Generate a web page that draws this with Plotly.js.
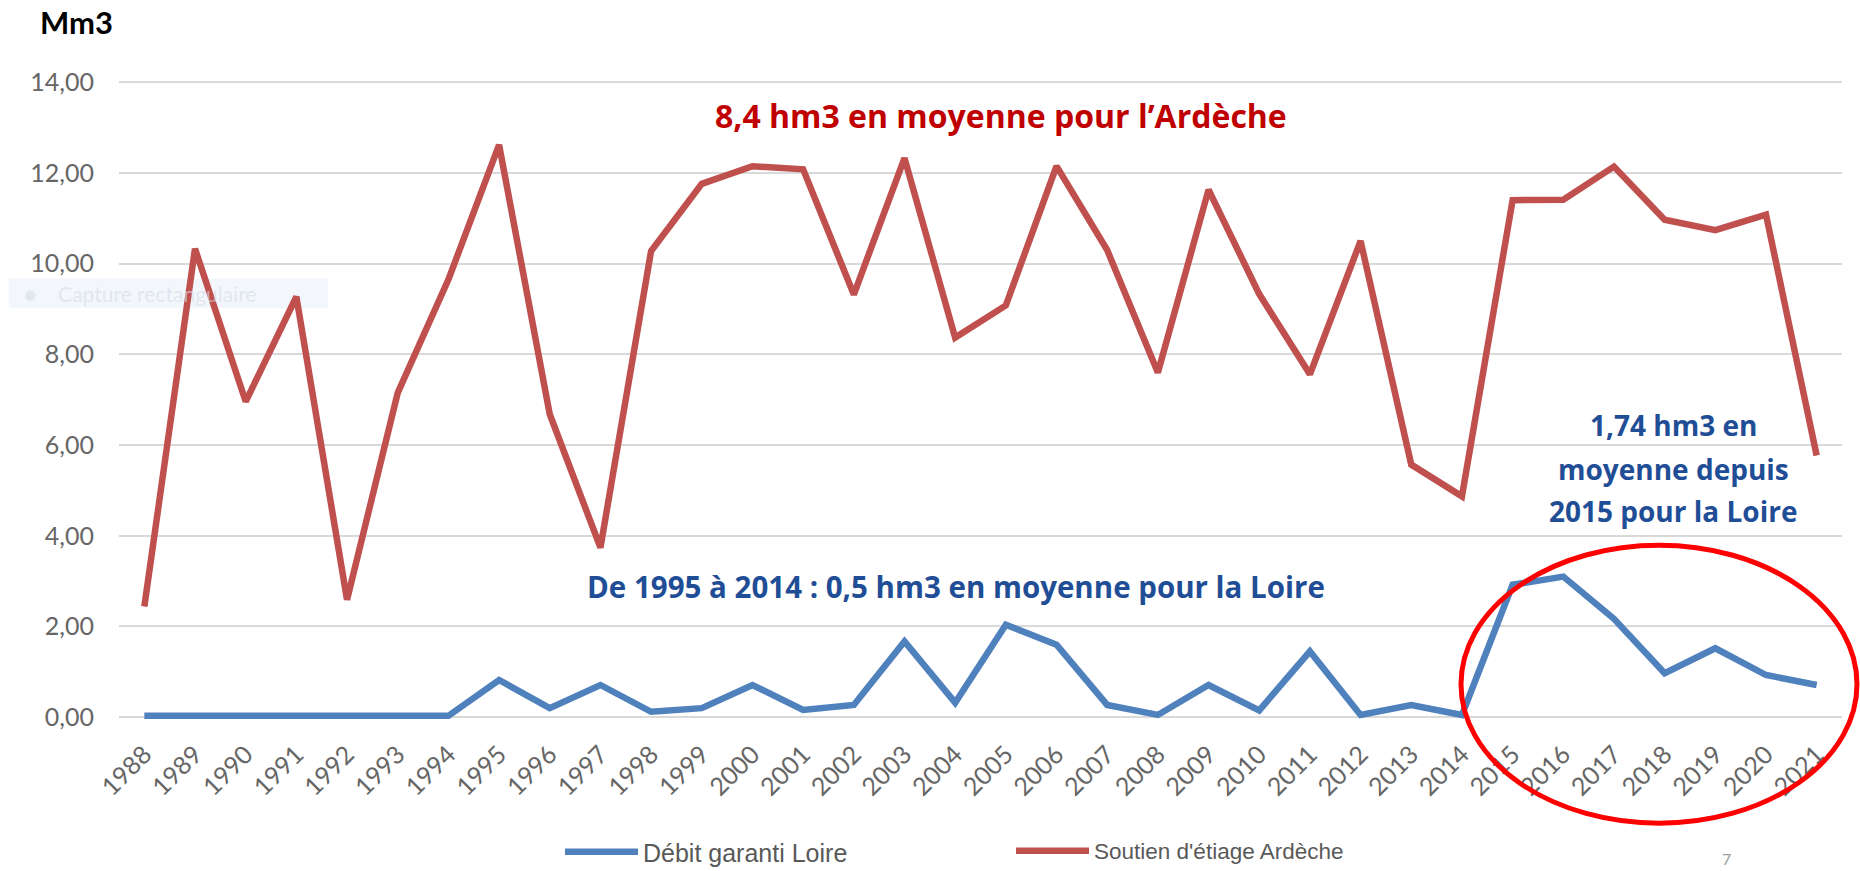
<!DOCTYPE html>
<html>
<head>
<meta charset="utf-8">
<script src="https://cdn.plot.ly/plotly-3.0.1.min.js"></script>
<style>
  html, body { margin: 0; padding: 0; background: #ffffff; }
  #chart { width: 1860px; height: 871px; }
</style>
</head>
<body>
<div id="chart"></div>
<script>
// ---- Data ----
const years = ['1988','1989','1990','1991','1992','1993','1994','1995','1996','1997','1998','1999','2000','2001','2002','2003','2004','2005','2006','2007','2008','2009','2010','2011','2012','2013','2014','2015','2016','2017','2018','2019','2020','2021'];

const debitGarantiLoire = [0.03,0.03,0.03,0.03,0.03,0.03,0.03,0.82,0.20,0.71,0.12,0.20,0.71,0.16,0.27,1.67,0.32,2.04,1.60,0.27,0.05,0.71,0.15,1.45,0.05,0.27,0.05,2.92,3.10,2.17,0.97,1.52,0.93,0.71];

const soutienEtiageArdeche = [2.44,10.33,6.96,9.27,2.59,7.15,9.65,12.62,6.68,3.74,10.28,11.76,12.15,12.08,9.32,12.33,8.37,9.08,12.15,10.30,7.60,11.63,9.33,7.56,10.50,5.57,4.87,11.40,11.41,12.14,10.97,10.74,11.08,5.77];

const seriesNames = ['Débit garanti Loire', "Soutien d'étiage Ardèche"];
const yTicks = [0, 2, 4, 6, 8, 10, 12, 14];
const yTickLabels = ['0,00','2,00','4,00','6,00','8,00','10,00','12,00','14,00'];
const unitLabel = 'Mm3';
const noteArdeche = '8,4 hm3 en moyenne pour l’Ardèche';
const noteLoire = 'De 1995 à 2014 : 0,5 hm3 en moyenne pour la Loire';
const noteLoire2015 = ['1,74 hm3 en', 'moyenne depuis', '2015 pour la Loire'];

// ---- Chart ----
const FONT = 'Lato, "Open Sans", sans-serif';
const NOTE_FONT = '"Open Sans", Lato, sans-serif';
const BLUE = '#4f81bd';
const RED = '#c0504d';
const NOTE_BLUE = '#1f4e96';
const NOTE_RED = '#c00000';

// pixel helpers for layout placement (plot area: x 119..1842, y 79.7..723.8)
const PX = (px) => (px - 119) / 1723;
const PY = (py) => (723.8 - py) / 644.1;

const traces = [
  {
    type: 'scatter', mode: 'lines', name: seriesNames[0],
    x: years, y: debitGarantiLoire,
    line: { color: BLUE, width: 6.5, shape: 'linear' },
    legend: 'legend',
    hoverinfo: 'x+y'
  },
  {
    type: 'scatter', mode: 'lines', name: seriesNames[1],
    x: years, y: soutienEtiageArdeche,
    line: { color: RED, width: 6.5, shape: 'linear' },
    legend: 'legend2',
    hoverinfo: 'x+y'
  }
];

const layout = {
  width: 1860, height: 871,
  paper_bgcolor: '#ffffff', plot_bgcolor: '#ffffff',
  margin: { l: 119, r: 18, t: 79.7, b: 147.2, pad: 0, autoexpand: false },
  separators: ', ',
  font: { family: FONT, color: '#666666', size: 24 },
  title: {
    text: unitLabel,
    x: 40 / 1860, xanchor: 'left', xref: 'container',
    y: 1 - 23 / 871, yanchor: 'middle', yref: 'container',
    font: { family: FONT, size: 31, color: '#000000', weight: 'bold' }
  },
  xaxis: {
    type: 'category',
    range: [-0.5, 33.5],
    tickmode: 'array', tickvals: years, ticktext: years,
    tickangle: -45,
    ticks: '', ticklabelstandoff: 10,
    showgrid: false, zeroline: false, showline: false,
    tickfont: { family: FONT, size: 25, color: '#666666' },
    fixedrange: true
  },
  yaxis: {
    range: [-0.15, 14.05],
    tickmode: 'array', tickvals: yTicks, ticktext: yTickLabels,
    ticks: '', ticklabelstandoff: 24,
    showgrid: true, gridcolor: '#d9d9d9', gridwidth: 2,
    zeroline: true, zerolinecolor: '#d9d9d9', zerolinewidth: 2,
    showline: false,
    tickfont: { family: FONT, size: 25, color: '#666666' },
    fixedrange: true
  },
  showlegend: true,
  legend: {
    orientation: 'h',
    xref: 'container', yref: 'container',
    x: 560 / 1860, xanchor: 'left',
    y: 1 - 852 / 871, yanchor: 'middle',
    itemwidth: 73,
    font: { family: '"Liberation Sans Narrow", "Liberation Sans", sans-serif', size: 25, color: '#595959' },
    bgcolor: 'rgba(0,0,0,0)'
  },
  legend2: {
    orientation: 'h',
    xref: 'container', yref: 'container',
    x: 1011 / 1860, xanchor: 'left',
    y: 1 - 851 / 871, yanchor: 'middle',
    itemwidth: 73,
    font: { family: '"Liberation Sans Narrow", "Liberation Sans", sans-serif', size: 22.5, color: '#595959' },
    bgcolor: 'rgba(0,0,0,0)'
  },
  shapes: [
    // faint screen-capture ghost box (left)
    {
      type: 'rect', xref: 'paper', yref: 'paper', layer: 'below',
      x0: PX(9), x1: PX(328), y0: PY(308), y1: PY(278),
      fillcolor: '#f3f7fc', line: { width: 0 }
    },
    // red ellipse around 2015-2021
    {
      type: 'circle', xref: 'paper', yref: 'paper', layer: 'above',
      x0: PX(1461), x1: PX(1857), y0: PY(823), y1: PY(545),
      line: { color: '#ff0000', width: 5 }
    }
  ],
  annotations: [
    {
      text: noteArdeche, xref: 'paper', yref: 'y',
      x: PX(1001), y: 13.27, xanchor: 'center', yanchor: 'middle',
      showarrow: false,
      font: { family: NOTE_FONT, size: 32, color: NOTE_RED, weight: 'bold' }
    },
    {
      text: noteLoire, xref: 'paper', yref: 'y',
      x: PX(956), y: 2.89, xanchor: 'center', yanchor: 'middle',
      showarrow: false,
      font: { family: NOTE_FONT, size: 29.5, color: NOTE_BLUE, weight: 'bold' }
    },
    {
      text: noteLoire2015[0], xref: 'paper', yref: 'y',
      x: PX(1673), y: 6.44, xanchor: 'center', yanchor: 'middle',
      showarrow: false,
      font: { family: NOTE_FONT, size: 28, color: NOTE_BLUE, weight: 'bold' }
    },
    {
      text: noteLoire2015[1], xref: 'paper', yref: 'y',
      x: PX(1673), y: 5.48, xanchor: 'center', yanchor: 'middle',
      showarrow: false,
      font: { family: NOTE_FONT, size: 28, color: NOTE_BLUE, weight: 'bold' }
    },
    {
      text: noteLoire2015[2], xref: 'paper', yref: 'y',
      x: PX(1673), y: 4.55, xanchor: 'center', yanchor: 'middle',
      showarrow: false,
      font: { family: NOTE_FONT, size: 28, color: NOTE_BLUE, weight: 'bold' }
    },
    {
      text: '●&nbsp;&nbsp;&nbsp;&nbsp;Capture rectangulaire', xref: 'paper', yref: 'paper',
      x: PX(22), y: PY(293), xanchor: 'left', yanchor: 'middle',
      showarrow: false, opacity: 0.6,
      font: { family: FONT, size: 21, color: '#d6dde6' }
    },
    {
      text: '7', xref: 'paper', yref: 'paper',
      x: PX(1726), y: PY(870), xanchor: 'center', yanchor: 'bottom',
      showarrow: false,
      font: { family: FONT, size: 16, color: '#9a9a9a' }
    }
  ]
};

Plotly.newPlot('chart', traces, layout, { displayModeBar: false, staticPlot: false, responsive: false });
</script>
</body>
</html>
